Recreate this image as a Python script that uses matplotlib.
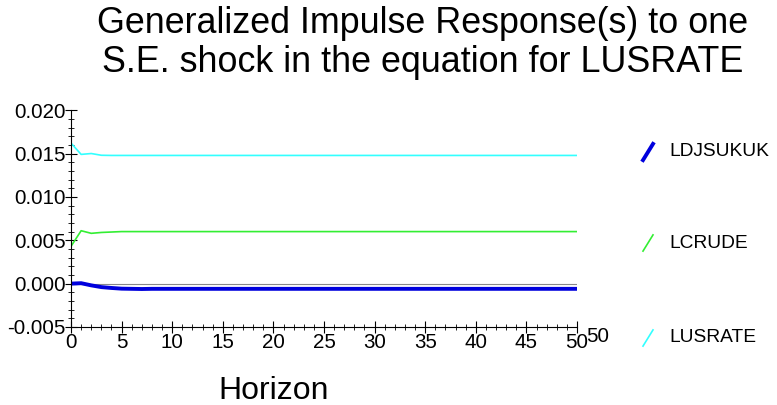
import numpy as np
from matplotlib import pyplot as plt
from matplotlib.lines import Line2D
from matplotlib.transforms import offset_copy

plt.rcParams['font.family'] = ['Liberation Sans', 'DejaVu Sans']

horizon = np.arange(0, 51)
# values for horizons 0..7, flat afterwards
ldjsukuk_head = [0.0000, 0.00005, -0.0002, -0.0004, -0.0005, -0.00058, -0.0006, -0.00062]
lcrude_head = [0.0043, 0.0061, 0.0058, 0.0059, 0.00595, 0.0060, 0.0060, 0.0060]
lusrate_head = [0.0162, 0.0149, 0.0150, 0.0148, 0.01478, 0.01478, 0.01478, 0.01478]
ldjsukuk_tail = -0.0006
lcrude_tail = 0.0060
lusrate_tail = 0.01478

series_names = ['LDJSUKUK', 'LCRUDE', 'LUSRATE']
series_colors = ['#0000dd', '#33ee33', '#33ffff']
series_widths = [2.8, 1.2, 1.2]


def extend(head, tail):
    return np.array(head + [tail] * (len(horizon) - len(head)))


ldjsukuk = extend(ldjsukuk_head, ldjsukuk_tail)
lcrude = extend(lcrude_head, lcrude_tail)
lusrate = extend(lusrate_head, lusrate_tail)

fig = plt.figure(figsize=(7.77, 4.05), dpi=100)
ax = fig.add_axes([0.0914, 0.1926, 0.6512, 0.5354])

ax.axhline(0, color='#888888', lw=0.8, zorder=1)
for y, c, w in zip([ldjsukuk, lcrude, lusrate], series_colors, series_widths):
    ax.plot(horizon, y, color=c, lw=w, zorder=2)

ax.set_xlim(0, 50)
ax.set_ylim(-0.005, 0.020)
ax.set_xticks(np.arange(0, 51, 5))
ax.set_xticks(np.arange(0, 51, 1), minor=True)
ax.set_yticks(np.arange(-0.005, 0.0201, 0.005))
ax.set_yticks(np.arange(-0.005, 0.0201, 0.001), minor=True)
ax.set_yticklabels(['%.3f' % v for v in np.arange(-0.005, 0.0201, 0.005)])
ax.tick_params(which='both', direction='inout', labelsize=14.8, pad=0)
ax.tick_params(which='major', length=8)
ax.tick_params(which='minor', length=5)
ax.spines['top'].set_visible(False)
ax.spines['right'].set_visible(False)

# the stray second "50" label right of the axis end
tr = offset_copy(ax.transData, fig=fig, x=9, y=0, units='dots')
ax.text(50, -0.005, '50', fontsize=14.8, ha='left', va='top', transform=tr)

fig.text(274 / 777, 1 - 399 / 405, 'Horizon', fontsize=23, ha='center', va='baseline')

fig.text(423 / 777, 1 - 6 / 405, 'Generalized Impulse Response(s) to one\nS.E. shock in the equation for LUSRATE',
         ha='center', va='top', fontsize=25.8, linespacing=1.15)

legend_y = [1 - 152 / 405, 1 - 243 / 405, 1 - 338 / 405]
for name, c, w, ly in zip(series_names, series_colors, series_widths, legend_y):
    fig.add_artist(Line2D([643 / 777, 653 / 777], [ly - 0.02, ly + 0.02], color=c, lw=w,
                          transform=fig.transFigure))
    fig.text(669 / 777, ly, name, fontsize=13.8, va='center', ha='left')

fig.savefig('out.png', dpi=100)
